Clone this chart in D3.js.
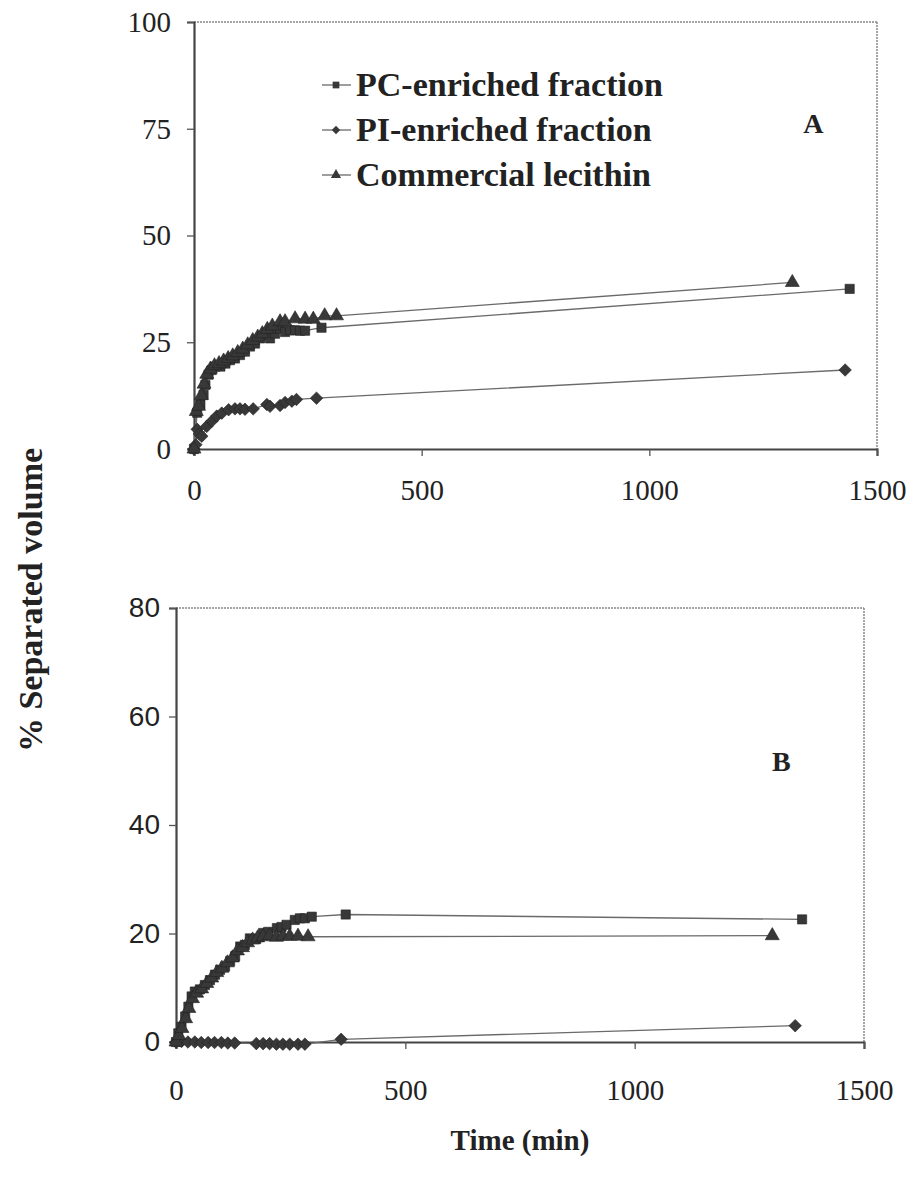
<!DOCTYPE html>
<html><head><meta charset="utf-8">
<script src="https://cdn.jsdelivr.net/npm/d3@7"></script>
<style>
html,body{margin:0;padding:0;background:#fff;}
svg{display:block;}
</style></head>
<body>
<svg id="chart" width="910" height="1182"></svg>
<script>
// ---------- data ----------
const seriesNames = ["PC-enriched fraction", "PI-enriched fraction", "Commercial lecithin"];
const xTicks = [0, 500, 1000, 1500];
const yTicksA = [0, 25, 50, 75, 100];
const yTicksB = [0, 20, 40, 60, 80];

// Panel A: [time (min), % separated volume]
const pcA = [[0,0],[7,8.5],[14,10.4],[21,12.7],[25,15],[32,17.4],[39,18.5],[47,19.3],[58,19.3],[69,20],[79,20.8],[90,21.2],[101,22],[112,22.8],[123,24],[134,24.7],[145,25.9],[156,26.7],[167,25.9],[178,27],[189,28.2],[200,27.4],[211,27.8],[222,27.8],[233,27.7],[244,27.7],[280,28.4],[1440,37.5]];
const piA = [[0,0],[4,1],[7,4.6],[12,3.5],[17,3],[28,5.3],[39,6.5],[50,7.7],[61,8.4],[76,9.2],[90,9.4],[101,9.4],[112,9.3],[130,9.4],[160,10.4],[167,10],[189,10.2],[200,10.9],[215,11.2],[225,11.6],[269,11.9],[1430,18.5]];
const clA = [[0,0],[5,8.8],[10,10],[16,12.5],[22,15.2],[28,17.5],[36,18.7],[45,19.5],[55,20],[65,20.6],[75,21.2],[85,21.8],[96,22.6],[107,23.4],[118,24.4],[129,25.4],[140,26.2],[150,27],[161,28],[172,28.8],[189,29.8],[200,29.8],[222,30.5],[244,30.4],[262,30.4],[287,31.2],[313,31.2],[1314,39]];

// Panel B
const pcB = [[0,0],[5,1.6],[12,2.8],[20,4.7],[27,6.5],[34,8.4],[41,9.3],[52,9.7],[63,10.5],[74,11.4],[85,12.4],[96,13.3],[107,13.9],[118,14.9],[129,15.8],[140,17.6],[150,17.9],[161,19.1],[175,19.0],[190,20.1],[201,20.3],[220,21],[230,21.2],[241,21.6],[259,22.5],[270,22.8],[281,22.8],[296,23.1],[370,23.5],[1365,22.6]];
const piB = [[0,0],[12,0.1],[26,0],[41,0],[55,-0.1],[70,-0.1],[84,-0.1],[99,-0.1],[113,-0.2],[128,-0.2],[175,-0.3],[190,-0.3],[204,-0.3],[219,-0.4],[233,-0.4],[248,-0.4],[266,-0.4],[281,-0.4],[360,0.5],[1350,3]];
const clB = [[0,0],[6,1.2],[13,2.5],[21,4.3],[28,6.2],[36,8],[45,9],[56,9.8],[67,10.8],[78,11.8],[89,12.8],[100,13.6],[112,14.6],[123,15.5],[134,16.8],[145,17.4],[156,18.3],[167,18.8],[178,19.2],[190,19.4],[204,19.6],[219,19.3],[233,19.5],[248,19.5],[266,19.5],[288,19.4],[1300,19.6]];

// ---------- drawing ----------
const svg = d3.select("#chart");
const serif = "'Liberation Serif','Times New Roman',serif";
const sans = "'Liberation Sans',Arial,sans-serif";
const markColor = "#383838";
const lineColor = "#6a6a6a";

const symbols = [d3.symbolSquare, d3.symbolDiamond2, d3.symbolTriangle];
const symSizes = [85, 100, 85];

function panel(cfg) {
  const x = d3.scaleLinear().domain([0, 1500]).range([cfg.left, cfg.right]);
  const y = d3.scaleLinear().domain([0, cfg.ymax]).range([cfg.bottom, cfg.top]);
  const g = svg.append("g");

  // frame (top / right)
  g.append("line").attr("x1", cfg.left).attr("x2", cfg.right).attr("y1", cfg.top).attr("y2", cfg.top)
    .attr("stroke", "#888").attr("stroke-width", 1.5).attr("stroke-dasharray", "2,1");
  g.append("line").attr("x1", cfg.right).attr("x2", cfg.right).attr("y1", cfg.top).attr("y2", cfg.bottom)
    .attr("stroke", "#888").attr("stroke-width", 1.5).attr("stroke-dasharray", "2,1");

  // axes
  const ya = g.append("g").attr("transform", `translate(${cfg.left},0)`)
    .call(d3.axisLeft(y).tickValues(cfg.yTicks).tickSize(7).tickPadding(cfg.yPad).tickFormat(d3.format("d")));
  const xa = g.append("g").attr("transform", `translate(0,${cfg.bottom})`)
    .call(d3.axisBottom(x).tickValues(xTicks).tickSize(7).tickPadding(cfg.xPad).tickFormat(d3.format("d")));
  [ya, xa].forEach(a => {
    a.select(".domain").attr("stroke", "#444").attr("stroke-width", 2.2);
    a.selectAll(".tick line").attr("stroke", "#555").attr("stroke-width", 1.3);
  });
  ya.selectAll("text").attr("font-family", cfg.yFont).attr("font-size", cfg.yFontSize).attr("fill", "#222");
  xa.selectAll("text").attr("font-family", serif).attr("font-size", 29).attr("fill", "#222");

  const line = d3.line().x(d => x(d[0])).y(d => y(d[1]));
  cfg.series.forEach((data, i) => {
    g.append("path").datum(data).attr("d", line).attr("fill", "none")
      .attr("stroke", lineColor).attr("stroke-width", 1.3);
  });
  cfg.series.forEach((data, i) => {
    g.append("g").selectAll("path").data(data).join("path")
      .attr("transform", d => `translate(${x(d[0])},${y(d[1])})`)
      .attr("d", d3.symbol().type(symbols[i]).size(symSizes[i]))
      .attr("fill", markColor).attr("stroke", "#222").attr("stroke-width", 0.6);
  });

  g.append("text").attr("x", x(cfg.tag[0])).attr("y", y(cfg.tag[1]))
    .attr("font-family", serif).attr("font-weight", "bold").attr("font-size", 28)
    .attr("text-anchor", "middle").attr("fill", "#222").text(cfg.tagText);
  return {x, y, g};
}

const A = panel({left: 194, right: 877, top: 22, bottom: 449, ymax: 100, yTicks: yTicksA,
  yFont: serif, yFontSize: 29, yPad: 16, xPad: 23, series: [pcA, piA, clA], tag: [1360, 74], tagText: "A"});
const B = panel({left: 176, right: 864, top: 608, bottom: 1042, ymax: 80, yTicks: yTicksB,
  yFont: sans, yFontSize: 28, yPad: 9, xPad: 30, series: [pcB, piB, clB], tag: [1320, 50], tagText: "B"});

// legend (panel A)
const leg = svg.append("g");
seriesNames.forEach((name, i) => {
  const yy = 85 + i * 45;
  leg.append("line").attr("x1", 322).attr("x2", 351).attr("y1", yy).attr("y2", yy)
    .attr("stroke", lineColor).attr("stroke-width", 1.3);
  leg.append("path").attr("transform", `translate(336,${yy})`)
    .attr("d", d3.symbol().type(symbols[i]).size(45)).attr("fill", markColor);
  leg.append("text").attr("x", 356).attr("y", yy + 11)
    .attr("font-family", serif).attr("font-weight", "bold").attr("font-size", 34)
    .attr("fill", "#222").text(name);
});

// axis titles
svg.append("text").attr("transform", "translate(42,600) rotate(-90)")
  .attr("text-anchor", "middle").attr("font-family", serif).attr("font-weight", "bold")
  .attr("font-size", 34).attr("fill", "#222").text("% Separated volume");
svg.append("text").attr("x", 520).attr("y", 1150)
  .attr("text-anchor", "middle").attr("font-family", serif).attr("font-weight", "bold")
  .attr("font-size", 29).attr("fill", "#222").text("Time (min)");
</script>
</body></html>
